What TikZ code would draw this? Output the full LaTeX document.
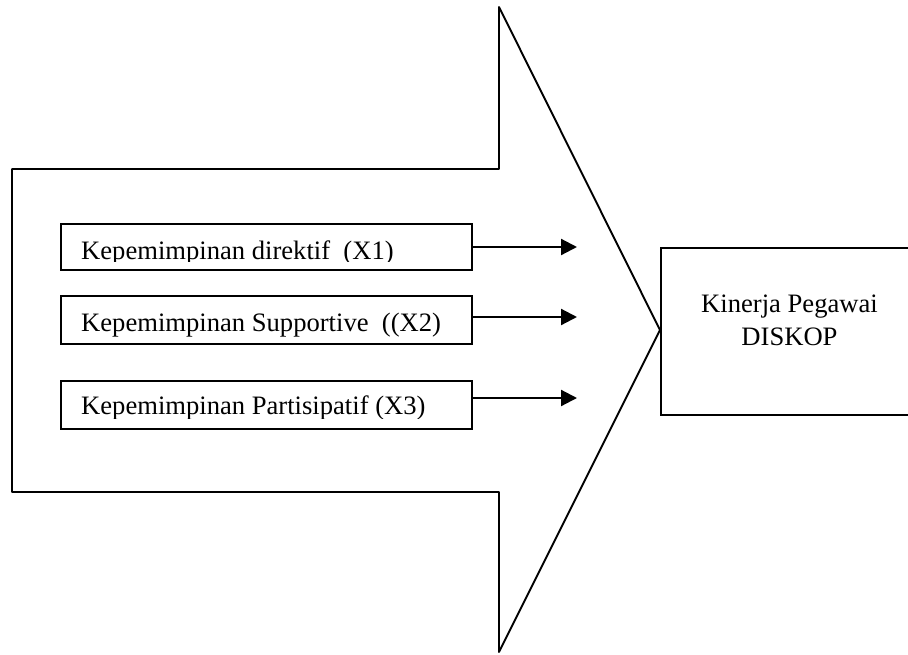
\documentclass[tikz,border=0pt]{standalone}
\usepackage{fontspec}
\setmainfont{Liberation Serif}
\usetikzlibrary{arrows.meta}
\begin{document}
\begin{tikzpicture}[x=1pt,y=-1pt,
  box/.style={draw, rectangle, inner sep=0pt, line width=2pt},
  lbl/.style={font=\fontsize{26.6}{33}\selectfont, inner sep=0pt},
  arr/.style={-{Triangle[length=16pt,width=16pt]}, line width=2.2pt},
  outline/.style={draw, line width=1.9pt, line join=round}]
\useasboundingbox (0,0) rectangle (908,654);
\clip (0,0) rectangle (908,654);
% big arrow shape
\draw[outline] (12,169) -- (499,169) -- (499,7) -- (660,330) -- (499,652) -- (499,492) -- (12,492) -- cycle;
% input boxes
\node[box, minimum width=411pt, minimum height=46pt] (b1) at (266.5,247) {};
\node[box, minimum width=411pt, minimum height=48pt] (b2) at (266.5,320) {};
\node[box, minimum width=411pt, minimum height=48pt] (b3) at (266.5,405) {};
\begin{scope}
  \clip (b1.north west) rectangle ([yshift=10pt]b1.south east);
  \node[lbl, anchor=base west] (t1) at (81,259) {Kepemimpinan direktif\ \ (X1)};
\end{scope}
\node[lbl, anchor=base west] (t2) at (81,331) {Kepemimpinan Supportive\ \ ((X2)};
\begin{scope}
  \clip (b3.north west) rectangle ([yshift=12pt]b3.south east);
  \node[lbl, anchor=base west] (t3) at (81,414) {Kepemimpinan Partisipatif (X3)};
\end{scope}
% arrows
\coordinate (a1) at (577,247);
\coordinate (a2) at (577,317);
\coordinate (a3) at (577,398);
\draw[arr] (b1.east) -- (a1);
\draw[arr] (b2.east |- a2) -- (a2);
\draw[arr] (b3.east |- a3) -- (a3);
% output box
\node[box, minimum width=260pt, minimum height=167pt, anchor=north west] (kp) at (660,247) {};
\node[lbl, align=center, anchor=base] (kpt) at (789.5,345) {Kinerja Pegawai\\DISKOP};
\end{tikzpicture}
\end{document}
